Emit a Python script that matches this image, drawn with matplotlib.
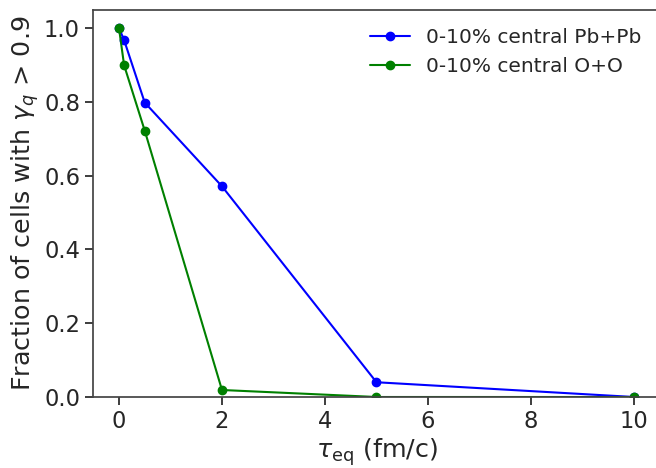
import matplotlib
matplotlib.use('Agg')
import matplotlib.pyplot as plt
import seaborn as sns

sns.set_style('ticks')
plt.rcParams['font.family'] = ['DejaVu Sans']

# equilibration times (fm/c)
tau_eq = [0, 0.1, 0.5, 2, 5, 10]
# fraction of cells with gamma_q > 0.9
frac_pbpb = [1.0, 0.967, 0.798, 0.571, 0.04, 0.0]
frac_oo = [1.0, 0.899, 0.722, 0.019, 0.0, 0.0]

fig = plt.figure(figsize=(6.56, 4.68), dpi=100)
ax = fig.add_axes([0.1421, 0.1517, 0.8636, 0.8279])

ax.plot(tau_eq, frac_pbpb, 'o-', color='blue', lw=1.5, ms=6, label='0-10% central Pb+Pb')
ax.plot(tau_eq, frac_oo, 'o-', color='green', lw=1.5, ms=6, label='0-10% central O+O')

ax.set_xlim(-0.5, 10.5)
ax.set_ylim(0, 1.05)
ax.set_xticks([0, 2, 4, 6, 8, 10])
ax.set_yticks([0.0, 0.2, 0.4, 0.6, 0.8, 1.0])
ax.tick_params(labelsize=16.3, length=6, width=1.25, colors='#262626')
for s in ax.spines.values():
    s.set_color('#444444')
    s.set_linewidth(1.25)

ax.set_xlabel(r'$\tau_{\rm eq}$ (fm/c)', fontsize=18.3, color='#262626', labelpad=2)
ax.set_ylabel(r'Fraction of cells with $\gamma_q$ > 0.9', fontsize=18.3, color='#262626', labelpad=2)
ax.legend(loc='upper right', frameon=False, fontsize=14.5, labelcolor='#262626',
          bbox_to_anchor=(1.0, 1.0))

fig.savefig('out.png', dpi=100)
